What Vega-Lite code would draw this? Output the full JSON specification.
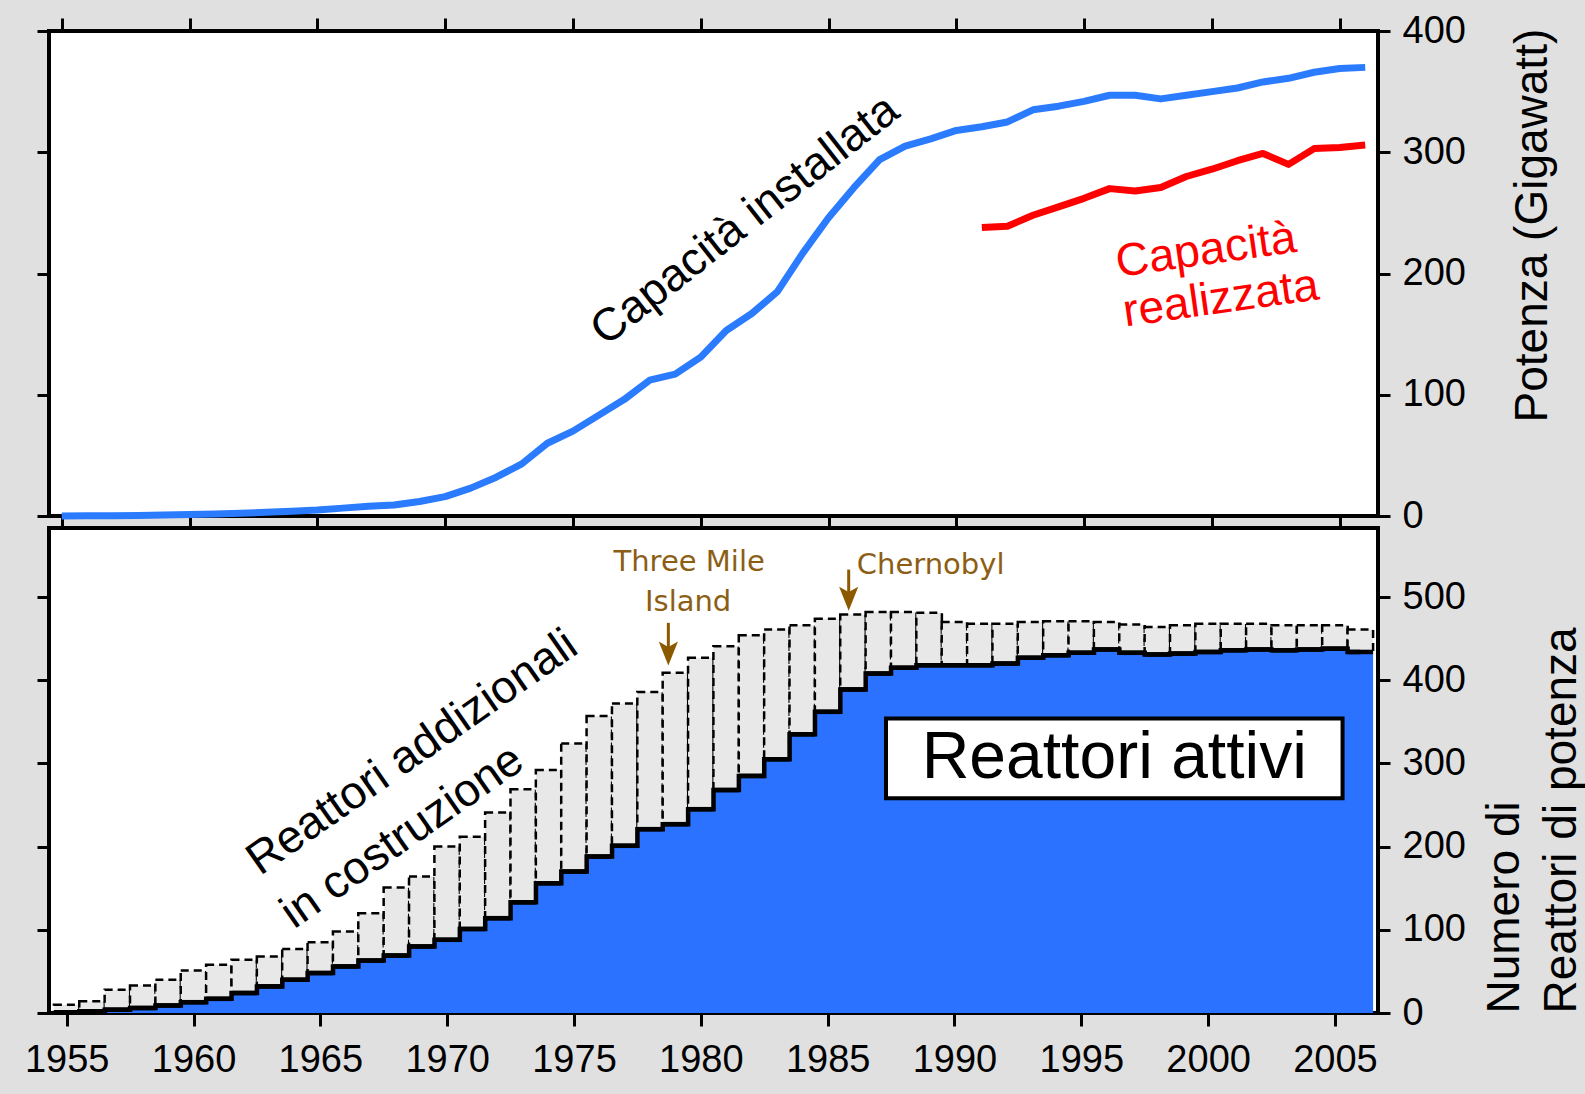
{
  "$schema": "https://vega.github.io/schema/vega-lite/v6.json",
  "background": "#e0e0e0",
  "padding": {"left": 22, "top": 10, "right": 10, "bottom": 20},
  "autosize": {"type": "pad"},
  "bounds": "flush",
  "spacing": 12,
  "config": {
    "view": {"stroke": "black", "strokeWidth": 4, "fill": "white"},
    "font": "Liberation Sans",
    "axis": {
      "domain": false, "grid": false,
      "tickColor": "black", "tickWidth": 3, "tickSize": 12,
      "labelFont": "Liberation Sans", "labelFontSize": 38, "labelColor": "black",
      "titleFont": "Liberation Sans", "titleFontSize": 46, "titleFontWeight": "normal", "titleColor": "black"
    }
  },
  "datasets": {
    "cap": [
      {"year": 1955, "installed": 0.1, "realized": null},
      {"year": 1956, "installed": 0.2, "realized": null},
      {"year": 1957, "installed": 0.3, "realized": null},
      {"year": 1958, "installed": 0.5, "realized": null},
      {"year": 1959, "installed": 0.8, "realized": null},
      {"year": 1960, "installed": 1.2, "realized": null},
      {"year": 1961, "installed": 1.6, "realized": null},
      {"year": 1962, "installed": 2.2, "realized": null},
      {"year": 1963, "installed": 3, "realized": null},
      {"year": 1964, "installed": 4, "realized": null},
      {"year": 1965, "installed": 5, "realized": null},
      {"year": 1966, "installed": 6.5, "realized": null},
      {"year": 1967, "installed": 8, "realized": null},
      {"year": 1968, "installed": 9, "realized": null},
      {"year": 1969, "installed": 12, "realized": null},
      {"year": 1970, "installed": 16, "realized": null},
      {"year": 1971, "installed": 23, "realized": null},
      {"year": 1972, "installed": 32, "realized": null},
      {"year": 1973, "installed": 43, "realized": null},
      {"year": 1974, "installed": 60, "realized": null},
      {"year": 1975, "installed": 70, "realized": null},
      {"year": 1976, "installed": 83, "realized": null},
      {"year": 1977, "installed": 96, "realized": null},
      {"year": 1978, "installed": 112, "realized": null},
      {"year": 1979, "installed": 117, "realized": null},
      {"year": 1980, "installed": 131, "realized": null},
      {"year": 1981, "installed": 153, "realized": null},
      {"year": 1982, "installed": 167, "realized": null},
      {"year": 1983, "installed": 185, "realized": null},
      {"year": 1984, "installed": 217, "realized": null},
      {"year": 1985, "installed": 246, "realized": null},
      {"year": 1986, "installed": 271, "realized": null},
      {"year": 1987, "installed": 294, "realized": null},
      {"year": 1988, "installed": 305, "realized": null},
      {"year": 1989, "installed": 311, "realized": null},
      {"year": 1990, "installed": 318, "realized": null},
      {"year": 1991, "installed": 321, "realized": 238},
      {"year": 1992, "installed": 325, "realized": 239},
      {"year": 1993, "installed": 335, "realized": 248},
      {"year": 1994, "installed": 338, "realized": 255},
      {"year": 1995, "installed": 342, "realized": 262},
      {"year": 1996, "installed": 347, "realized": 270},
      {"year": 1997, "installed": 347, "realized": 268},
      {"year": 1998, "installed": 344, "realized": 271},
      {"year": 1999, "installed": 347, "realized": 280},
      {"year": 2000, "installed": 350, "realized": 286},
      {"year": 2001, "installed": 353, "realized": 293},
      {"year": 2002, "installed": 358, "realized": 299},
      {"year": 2003, "installed": 361, "realized": 290},
      {"year": 2004, "installed": 366, "realized": 303},
      {"year": 2005, "installed": 369, "realized": 304},
      {"year": 2006, "installed": 370, "realized": 306}
    ],
    "reac": [
      {"year": 1955, "operating": 1, "total": 10},
      {"year": 1956, "operating": 2, "total": 14},
      {"year": 1957, "operating": 4, "total": 28},
      {"year": 1958, "operating": 6, "total": 33},
      {"year": 1959, "operating": 9, "total": 40},
      {"year": 1960, "operating": 13, "total": 51},
      {"year": 1961, "operating": 17, "total": 58},
      {"year": 1962, "operating": 24, "total": 64},
      {"year": 1963, "operating": 32, "total": 68},
      {"year": 1964, "operating": 40, "total": 77},
      {"year": 1965, "operating": 48, "total": 85},
      {"year": 1966, "operating": 56, "total": 98},
      {"year": 1967, "operating": 63, "total": 120},
      {"year": 1968, "operating": 69, "total": 151},
      {"year": 1969, "operating": 80, "total": 164},
      {"year": 1970, "operating": 88, "total": 200},
      {"year": 1971, "operating": 101, "total": 212},
      {"year": 1972, "operating": 114, "total": 241},
      {"year": 1973, "operating": 133, "total": 269},
      {"year": 1974, "operating": 156, "total": 292},
      {"year": 1975, "operating": 170, "total": 324},
      {"year": 1976, "operating": 188, "total": 357},
      {"year": 1977, "operating": 201, "total": 372},
      {"year": 1978, "operating": 221, "total": 386},
      {"year": 1979, "operating": 227, "total": 409},
      {"year": 1980, "operating": 245, "total": 427},
      {"year": 1981, "operating": 268, "total": 441},
      {"year": 1982, "operating": 285, "total": 454},
      {"year": 1983, "operating": 305, "total": 461},
      {"year": 1984, "operating": 335, "total": 466},
      {"year": 1985, "operating": 362, "total": 474},
      {"year": 1986, "operating": 389, "total": 479},
      {"year": 1987, "operating": 408, "total": 482},
      {"year": 1988, "operating": 415, "total": 482},
      {"year": 1989, "operating": 418, "total": 481},
      {"year": 1990, "operating": 418, "total": 470},
      {"year": 1991, "operating": 418, "total": 468},
      {"year": 1992, "operating": 420, "total": 468},
      {"year": 1993, "operating": 427, "total": 470},
      {"year": 1994, "operating": 430, "total": 471},
      {"year": 1995, "operating": 433, "total": 471},
      {"year": 1996, "operating": 437, "total": 470},
      {"year": 1997, "operating": 433, "total": 467},
      {"year": 1998, "operating": 431, "total": 464},
      {"year": 1999, "operating": 432, "total": 466},
      {"year": 2000, "operating": 434, "total": 468},
      {"year": 2001, "operating": 436, "total": 468},
      {"year": 2002, "operating": 437, "total": 468},
      {"year": 2003, "operating": 436, "total": 466},
      {"year": 2004, "operating": 437, "total": 466},
      {"year": 2005, "operating": 438, "total": 466},
      {"year": 2006, "operating": 434, "total": 461}
    ]
  },
  "vconcat": [
    {
      "width": 1329, "height": 485,
      "data": {"name": "cap"},
      "layer": [
        {
          "mark": {"type": "line", "color": "#2b7bff", "strokeWidth": 7, "strokeJoin": "round"},
          "encoding": {
            "x": {"field": "year", "type": "quantitative", "scale": {"domain": [1954.5, 2006.5], "nice": false, "zero": false},
                  "axis": {"orient": "top", "values": [1955, 1960, 1965, 1970, 1975, 1980, 1985, 1990, 1995, 2000, 2005], "labels": false, "title": null, "tickSize": 13}},
            "y": {"field": "installed", "type": "quantitative", "scale": {"domain": [0, 400], "nice": false},
                  "axis": {"orient": "left", "values": [0, 100, 200, 300, 400], "labels": false, "title": null}}
          }
        },
        {
          "transform": [{"filter": "datum.realized != null"}],
          "mark": {"type": "line", "color": "#ff0000", "strokeWidth": 7, "strokeJoin": "round"},
          "encoding": {
            "x": {"field": "year", "type": "quantitative",
                  "axis": {"orient": "bottom", "values": [1955, 1960, 1965, 1970, 1975, 1980, 1985, 1990, 1995, 2000, 2005], "labels": false, "title": null, "tickSize": 12}},
            "y": {"field": "realized", "type": "quantitative",
                  "axis": {"orient": "right", "values": [0, 100, 200, 300, 400], "labelPadding": 12, "title": "Potenza (Gigawatt)", "titleAngle": 270, "titleAlign": "left", "titleBaseline": "alphabetic", "titleX": 168, "titleY": 391}}
          }
        },
        {
          "data": {"values": [{}]},
          "mark": {"type": "text", "text": "Capacità installata", "font": "Liberation Sans", "fontSize": 46, "angle": -38, "align": "center", "baseline": "middle", "color": "black"},
          "encoding": {"x": {"datum": 1981.73, "type": "quantitative", "axis": null}, "y": {"datum": 244, "type": "quantitative", "axis": null}}
        },
        {
          "data": {"values": [{}]},
          "mark": {"type": "text", "text": "Capacità", "font": "Liberation Sans", "fontSize": 46, "angle": -8, "align": "center", "baseline": "middle", "color": "#ff0000"},
          "encoding": {"x": {"datum": 1999.77, "type": "quantitative", "axis": null}, "y": {"datum": 219, "type": "quantitative", "axis": null}}
        },
        {
          "data": {"values": [{}]},
          "mark": {"type": "text", "text": "realizzata", "font": "Liberation Sans", "fontSize": 46, "angle": -8, "align": "center", "baseline": "middle", "color": "#ff0000"},
          "encoding": {"x": {"datum": 2000.35, "type": "quantitative", "axis": null}, "y": {"datum": 179, "type": "quantitative", "axis": null}}
        }
      ],
      "resolve": {"axis": {"x": "independent", "y": "independent"}}
    },
    {
      "width": 1329, "height": 485,
      "data": {"name": "reac"},
      "layer": [
        {
          "mark": {"type": "bar", "width": 25.56, "fill": "#e8e8e8", "stroke": "black", "strokeWidth": 2.5, "strokeDash": [8, 5]},
          "encoding": {
            "x": {"field": "year", "type": "quantitative", "scale": {"domain": [1954.5, 2006.5], "nice": false, "zero": false},
                  "axis": {"orient": "bottom", "values": [1955, 1960, 1965, 1970, 1975, 1980, 1985, 1990, 1995, 2000, 2005], "format": "d", "labelPadding": 15, "tickSize": 13, "title": null}},
            "y": {"field": "operating", "type": "quantitative", "scale": {"domain": [0, 583], "nice": false},
                  "axis": {"orient": "left", "values": [0, 100, 200, 300, 400, 500], "labels": false, "title": null}},
            "y2": {"field": "total"}
          }
        },
        {
          "mark": {"type": "bar", "width": 25.56, "color": "#2a72ff"},
          "encoding": {
            "x": {"field": "year", "type": "quantitative", "axis": null},
            "y": {"field": "operating", "type": "quantitative",
                  "axis": {"orient": "right", "values": [0, 100, 200, 300, 400, 500], "labelPadding": 12, "title": ["Numero di", "Reattori di potenza"], "titleAngle": 270, "titleAlign": "left", "titleBaseline": "alphabetic", "titleX": 140, "titleY": 485, "titleLineHeight": 57}}
          }
        },
        {
          "mark": {"type": "area", "interpolate": "step", "color": "#2a72ff"},
          "encoding": {
            "x": {"field": "year", "type": "quantitative", "axis": null},
            "y": {"field": "operating", "type": "quantitative", "axis": null}
          }
        },
        {
          "mark": {"type": "line", "interpolate": "step", "color": "black", "strokeWidth": 4.5},
          "encoding": {
            "x": {"field": "year", "type": "quantitative", "axis": null},
            "y": {"field": "operating", "type": "quantitative", "axis": null}
          }
        },
        {
          "mark": {"type": "tick", "orient": "horizontal", "size": 25.56, "thickness": 4.5, "color": "black", "opacity": 1},
          "encoding": {
            "x": {"field": "year", "type": "quantitative", "axis": null},
            "y": {"field": "operating", "type": "quantitative", "axis": null}
          }
        },
        {
          "data": {"values": [{}]},
          "mark": {"type": "rect", "fill": "white", "stroke": "black", "strokeWidth": 4},
          "encoding": {
            "x": {"datum": 1987.3, "type": "quantitative", "axis": null},
            "x2": {"datum": 2005.3},
            "y": {"datum": 354, "type": "quantitative", "axis": null},
            "y2": {"datum": 258}
          }
        },
        {
          "data": {"values": [{}]},
          "mark": {"type": "text", "text": "Reattori attivi", "font": "Liberation Sans", "fontSize": 66, "align": "center", "baseline": "middle", "color": "black"},
          "encoding": {"x": {"datum": 1996.3, "type": "quantitative", "axis": null}, "y": {"datum": 307, "type": "quantitative", "axis": null}}
        },
        {
          "data": {"values": [{}]},
          "mark": {"type": "text", "text": "Reattori addizionali", "font": "Liberation Sans", "fontSize": 46, "angle": -35, "align": "center", "baseline": "middle", "color": "black"},
          "encoding": {"x": {"datum": 1968.62, "type": "quantitative", "axis": null}, "y": {"datum": 313, "type": "quantitative", "axis": null}}
        },
        {
          "data": {"values": [{}]},
          "mark": {"type": "text", "text": "in costruzione", "font": "Liberation Sans", "fontSize": 46, "angle": -35, "align": "center", "baseline": "middle", "color": "black"},
          "encoding": {"x": {"datum": 1968.23, "type": "quantitative", "axis": null}, "y": {"datum": 212, "type": "quantitative", "axis": null}}
        },
        {
          "data": {"values": [{}]},
          "mark": {"type": "text", "text": "Three Mile", "font": "DejaVu Sans", "fontSize": 29, "align": "center", "baseline": "middle", "color": "#8c5e14"},
          "encoding": {"x": {"datum": 1979.54, "type": "quantitative", "axis": null}, "y": {"datum": 542, "type": "quantitative", "axis": null}}
        },
        {
          "data": {"values": [{}]},
          "mark": {"type": "text", "text": "Island", "font": "DejaVu Sans", "fontSize": 29, "align": "center", "baseline": "middle", "color": "#8c5e14"},
          "encoding": {"x": {"datum": 1979.5, "type": "quantitative", "axis": null}, "y": {"datum": 494, "type": "quantitative", "axis": null}}
        },
        {
          "data": {"values": [{}]},
          "mark": {"type": "text", "text": "Chernobyl", "font": "DejaVu Sans", "fontSize": 29, "align": "left", "baseline": "middle", "color": "#8c5e14"},
          "encoding": {"x": {"datum": 1986.15, "type": "quantitative", "axis": null}, "y": {"datum": 539, "type": "quantitative", "axis": null}}
        },
        {
          "data": {"values": [{}]},
          "mark": {"type": "rule", "color": "#8b5a00", "strokeWidth": 3},
          "encoding": {
            "x": {"datum": 1978.72, "type": "quantitative", "axis": null},
            "y": {"datum": 469, "type": "quantitative", "axis": null},
            "y2": {"datum": 432}
          }
        },
        {
          "data": {"values": [{}]},
          "mark": {"type": "point", "shape": "M0,1L-0.8,-1L0,-0.55L0.8,-1Z", "size": 576, "filled": true, "color": "#8b5a00", "opacity": 1, "strokeWidth": 0},
          "encoding": {
            "x": {"datum": 1978.72, "type": "quantitative", "axis": null},
            "y": {"datum": 432, "type": "quantitative", "axis": null}
          }
        },
        {
          "data": {"values": [{}]},
          "mark": {"type": "rule", "color": "#8b5a00", "strokeWidth": 3},
          "encoding": {
            "x": {"datum": 1985.83, "type": "quantitative", "axis": null},
            "y": {"datum": 533, "type": "quantitative", "axis": null},
            "y2": {"datum": 498}
          }
        },
        {
          "data": {"values": [{}]},
          "mark": {"type": "point", "shape": "M0,1L-0.8,-1L0,-0.55L0.8,-1Z", "size": 576, "filled": true, "color": "#8b5a00", "opacity": 1, "strokeWidth": 0},
          "encoding": {
            "x": {"datum": 1985.83, "type": "quantitative", "axis": null},
            "y": {"datum": 498, "type": "quantitative", "axis": null}
          }
        }
      ],
      "resolve": {"axis": {"x": "independent", "y": "independent"}}
    }
  ]
}
